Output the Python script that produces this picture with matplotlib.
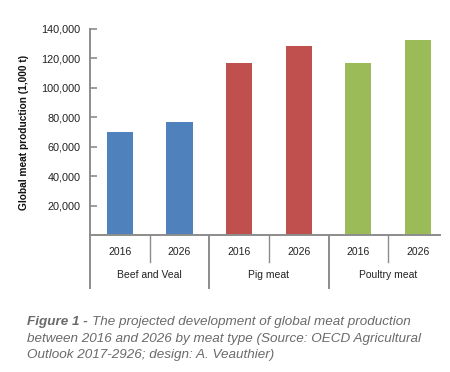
import matplotlib
matplotlib.use("Agg")
import matplotlib.pyplot as plt
from matplotlib.ticker import FuncFormatter

plt.rcParams['font.family'] = ['Liberation Sans', 'DejaVu Sans']

years = ["2016", "2026", "2016", "2026", "2016", "2026"]
groups = ["Beef and Veal", "Pig meat", "Poultry meat"]
production = [70000, 76500, 117000, 128500, 117000, 132500]
bar_colors = ["#4F81BD", "#4F81BD", "#C0504D", "#C0504D", "#9BBB59", "#9BBB59"]
yticks = [20000, 40000, 60000, 80000, 100000, 120000, 140000]

axis_grey = "#8c8c8c"

fig = plt.figure(figsize=(4.5, 3.72), dpi=100)
ax = fig.add_axes([0.2, 0.3683, 0.7778, 0.5538])

x = list(range(len(production)))
ax.bar(x, production, width=0.44, color=bar_colors, zorder=2)

ax.set_xlim(-0.5, 5.37)
ax.set_ylim(0, 140000)
ax.set_yticks(yticks)
ax.yaxis.set_major_formatter(FuncFormatter(lambda v, p: f"{int(v):,}"))
ax.tick_params(axis='y', direction='in', length=5, width=1.2, color=axis_grey,
               labelsize=7.8, labelcolor="#222222", pad=7)
ax.set_xticks([])

for s in ['top', 'right']:
    ax.spines[s].set_visible(False)
for s in ['left', 'bottom']:
    ax.spines[s].set_color(axis_grey)
    ax.spines[s].set_linewidth(1.4)

ax.set_ylabel("Global meat production (1,000 t)", fontsize=7.3, fontweight='bold',
              color="#111111", labelpad=9)

trans = ax.get_xaxis_transform()
# year labels and short separators
for i, yr in enumerate(years):
    ax.text(i, -0.083, yr, transform=trans, ha='center', va='center',
            fontsize=7.5, color="#222222")
for i in range(len(years)):
    if i % 2 == 1:
        ax.plot([i - 0.5, i - 0.5], [0, -0.132], transform=trans, color=axis_grey,
                lw=1.0, clip_on=False)
# group labels and long separators
for g, name in enumerate(groups):
    ax.text(2 * g + 0.5, -0.196, name, transform=trans, ha='center', va='center',
            fontsize=7.5, color="#222222")
    ax.plot([2 * g - 0.5, 2 * g - 0.5], [0, -0.255], transform=trans, color=axis_grey,
            lw=1.4, clip_on=False)

# caption: bold lead-in followed by italic text
cap_color = "#6a6a6a"
cap_size = 9.7
renderer = fig.canvas.get_renderer()
lead = fig.text(0.06, 0.135, "Figure 1 - ", fontsize=cap_size, fontweight='bold',
                style='italic', color=cap_color, va='center')
bb = lead.get_window_extent(renderer=renderer)
x_after = bb.x1 / fig.bbox.width
fig.text(x_after, 0.135, "The projected development of global meat production",
         fontsize=cap_size, style='italic', color=cap_color, va='center')
fig.text(0.06, 0.090,
         "between 2016 and 2026 by meat type (Source: OECD Agricultural",
         fontsize=cap_size, style='italic', color=cap_color, va='center')
fig.text(0.06, 0.046,
         "Outlook 2017-2926; design: A. Veauthier)",
         fontsize=cap_size, style='italic', color=cap_color, va='center')

fig.savefig("out.png", dpi=100)
